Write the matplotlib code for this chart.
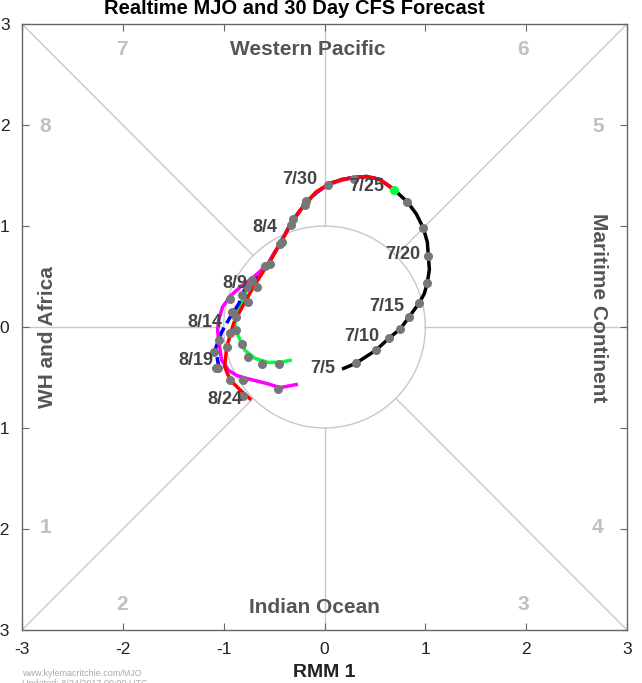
import numpy as np
import matplotlib
matplotlib.use("Agg")
import matplotlib.pyplot as plt

plt.rcParams['font.family'] = ['Liberation Sans', 'DejaVu Sans']
plt.rcParams['axes.unicode_minus'] = False

# ---- observed path (7/5 -> 7/25) ----
obs_x = [0.19, 0.31, 0.51, 0.64, 0.75, 0.84, 0.94, 0.99, 1.02, 1.04, 1.03, 1.02, 0.98, 0.91, 0.82, 0.69]
obs_y = [-0.41, -0.36, -0.23, -0.11, -0.02, 0.10, 0.24, 0.33, 0.44, 0.57, 0.70, 0.84, 0.98, 1.12, 1.24, 1.36]
obs_dot_x = [0.31, 0.51, 0.64, 0.75, 0.84, 0.94, 1.02, 1.03, 0.98, 0.82]
obs_dot_y = [-0.36, -0.23, -0.11, -0.02, 0.10, 0.24, 0.44, 0.70, 0.98, 1.24]

# ---- forecast members ----
red_x = [0.69, 0.55, 0.42, 0.29, 0.17, 0.05, -0.08, -0.19, -0.31, -0.42, -0.54, -0.62, -0.72, -0.82, -0.90, -0.97, -0.99, -0.96, -0.92, -0.84, -0.74]
red_y = [1.36, 1.46, 1.49, 1.48, 1.46, 1.42, 1.34, 1.22, 1.06, 0.86, 0.65, 0.53, 0.37, 0.19, 0.04, -0.20, -0.39, -0.47, -0.54, -0.62, -0.71]
red_dot_x = [0.29, 0.03, -0.18, -0.31, -0.42, -0.54, -0.67, -0.76, -0.88, -0.94, -0.97, -0.94, -0.81]
red_dot_y = [1.47, 1.41, 1.25, 1.07, 0.84, 0.62, 0.40, 0.25, 0.10, -0.06, -0.20, -0.52, -0.68]

mag_x = [0.69, 0.55, 0.42, 0.29, 0.16, 0.04, -0.10, -0.21, -0.33, -0.44, -0.56, -0.64, -0.72, -0.82, -0.93, -1.01, -1.05, -1.06, -1.05, -1.02, -0.95, -0.87, -0.77, -0.57, -0.44, -0.28]
mag_y = [1.36, 1.46, 1.49, 1.48, 1.45, 1.41, 1.32, 1.20, 1.03, 0.83, 0.63, 0.55, 0.48, 0.41, 0.31, 0.20, 0.07, -0.03, -0.13, -0.33, -0.43, -0.48, -0.51, -0.56, -0.60, -0.57]
mag_dot_x = [-0.19, -0.33, -0.44, -0.59, -0.72, -0.94, -1.08, -0.81, -0.46]
mag_dot_y = [1.21, 1.01, 0.82, 0.60, 0.47, 0.28, -0.41, -0.52, -0.61]

blue_x = [0.69, 0.55, 0.42, 0.29, 0.17, 0.05, -0.08, -0.20, -0.32, -0.43, -0.55, -0.63, -0.72, -0.79, -0.85, -0.94, -1.02, -1.08, -1.06, -1.04]
blue_y = [1.36, 1.46, 1.49, 1.48, 1.46, 1.42, 1.33, 1.21, 1.05, 0.85, 0.64, 0.53, 0.45, 0.38, 0.23, 0.09, -0.05, -0.21, -0.33, -0.44]
blue_dot_x = [-0.82, -0.92, -1.05, -1.10, -1.06]
blue_dot_y = [0.32, 0.15, -0.13, -0.25, -0.41]

grn_x = [0.69, 0.55, 0.42, 0.29, 0.17, 0.05, -0.08, -0.20, -0.32, -0.43, -0.55, -0.63, -0.71, -0.77, -0.85, -0.89, -0.88, -0.85, -0.79, -0.69, -0.56, -0.44, -0.34]
grn_y = [1.36, 1.46, 1.49, 1.48, 1.46, 1.42, 1.33, 1.21, 1.05, 0.85, 0.64, 0.53, 0.44, 0.37, 0.19, 0.04, -0.04, -0.10, -0.23, -0.31, -0.35, -0.35, -0.33]
grn_dot_x = [-0.77, -0.88, -0.82, -0.76, -0.62, -0.45]
grn_dot_y = [0.40, -0.03, -0.17, -0.30, -0.37, -0.37]

# ---- date labels ----
date_labels = ['7/5', '7/10', '7/15', '7/20', '7/25', '7/30', '8/4', '8/9', '8/14', '8/19', '8/24']
date_x = [-0.02, 0.37, 0.62, 0.78, 0.42, -0.24, -0.59, -0.89, -1.19, -1.28, -0.99]
date_y = [-0.41, -0.09, 0.20, 0.72, 1.39, 1.46, 0.99, 0.43, 0.04, -0.33, -0.72]

phase_nums = ['1', '2', '3', '4', '5', '6', '7', '8']
phase_x = [-2.77, -2.01, 1.97, 2.71, 2.71, 1.97, -2.01, -2.77]
phase_y = [-1.99, -2.75, -2.75, -1.99, 1.99, 2.75, 2.75, 1.99]

fig = plt.figure(figsize=(6.42, 6.83), dpi=100)
ax = fig.add_axes([22 / 642, 53 / 683, 605 / 642, 606 / 683])

grid_c = '#c8c8c8'
# phase dividers
theta = np.linspace(0, 2 * np.pi, 200)
ax.plot(np.cos(theta), np.sin(theta), color=grid_c, lw=1.0, zorder=1)
s = np.sqrt(0.5)
for sx, sy in [(1, 1), (-1, 1), (1, -1), (-1, -1)]:
    ax.plot([s * sx, 3 * sx], [s * sy, 3 * sy], color=grid_c, lw=1.0, zorder=1)
ax.plot([0, 0], [1, 3], color=grid_c, lw=1.0, zorder=1)
ax.plot([0, 0], [-1, -3], color=grid_c, lw=1.0, zorder=1)
ax.plot([1, 3], [0, 0], color=grid_c, lw=1.0, zorder=1)
ax.plot([-1, -3], [0, 0], color=grid_c, lw=1.0, zorder=1)

for t, x, y in zip(phase_nums, phase_x, phase_y):
    ax.text(x, y, t, color='#c0c0c0', fontsize=15, fontweight='bold', ha='center', va='center')

region_c = '#555555'
ax.text(-0.17, 2.75, 'Western Pacific', color=region_c, fontsize=15, fontweight='bold', ha='center', va='center')
ax.text(-0.1, -2.78, 'Indian Ocean', color=region_c, fontsize=15, fontweight='bold', ha='center', va='center')
ax.text(-2.75, -0.1, 'WH and Africa', color=region_c, fontsize=15, fontweight='bold', ha='center', va='center', rotation=90)
ax.text(2.72, 0.19, 'Maritime Continent', color=region_c, fontsize=15, fontweight='bold', ha='center', va='center', rotation=270)

# lines
lw = 2.5
ax.plot(obs_x, obs_y, color='black', lw=lw, zorder=3, solid_joinstyle='round')
ax.plot(grn_x, grn_y, color='#00ff40', lw=lw, zorder=3, solid_joinstyle='round')
ax.plot(blue_x, blue_y, color='#0000ff', lw=lw, ls=(0, (3, 1.5)), zorder=4)
ax.plot(mag_x, mag_y, color='#ff00ff', lw=lw, zorder=5, solid_joinstyle='round')
ax.plot(red_x, red_y, color='#ff0000', lw=lw, zorder=6, solid_joinstyle='round')

dot_c = '#777777'
for dx, dy in [(obs_dot_x, obs_dot_y), (red_dot_x, red_dot_y), (mag_dot_x, mag_dot_y),
               (blue_dot_x, blue_dot_y), (grn_dot_x, grn_dot_y)]:
    ax.plot(dx, dy, 'o', color=dot_c, ms=6.5, mec='none', zorder=7)
ax.plot([obs_x[-1]], [obs_y[-1]], 'o', color='#00ff40', ms=6.5, mec='none', zorder=8)

for t, x, y in zip(date_labels, date_x, date_y):
    ax.text(x, y, t, color='#444444', fontsize=13, fontweight='bold', ha='center', va='center', zorder=9)

ax.set_xlim(-3, 3)
ax.set_ylim(-3, 3)
ax.set_xticks(range(-3, 4))
ax.set_yticks(range(-3, 4))
ax.tick_params(direction='in', length=5, color='#666666', top=True, right=True,
               labelsize=12.5, labelcolor='#222222', pad=9)
for sp in ax.spines.values():
    sp.set_color('#666666')
    sp.set_linewidth(1.0)

ax.set_xlabel('RMM 1', fontsize=14, fontweight='bold', color='#222222', labelpad=5)
fig.text(294 / 642, 1 - 8 / 683, 'Realtime MJO and 30 Day CFS Forecast', fontsize=14.5,
         fontweight='bold', ha='center', va='center')
fig.text(22 / 642, 9 / 683, 'www.kylemacritchie.com/MJO', fontsize=6.5, color='#aaaaaa', ha='left', va='center')
fig.text(22 / 642, -1 / 683, 'Updated: 8/24/2017 00:00 UTC', fontsize=6.5, color='#aaaaaa', ha='left', va='center')

fig.savefig('out.png', dpi=100)
